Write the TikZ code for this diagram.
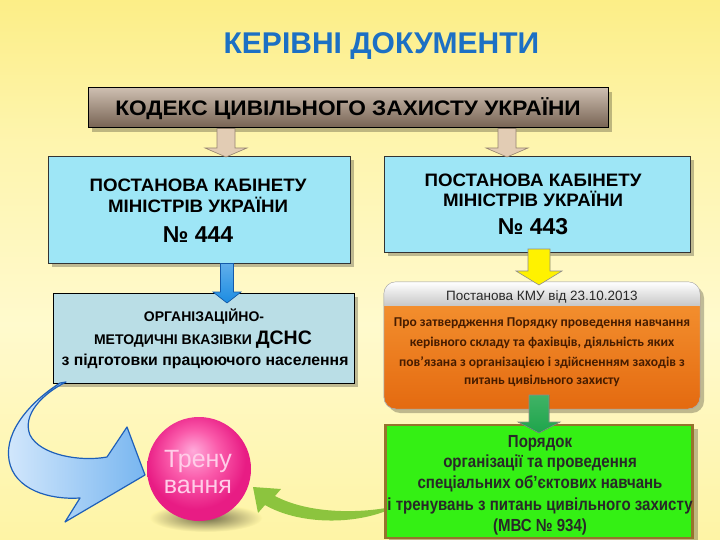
\documentclass[tikz,border=0pt]{standalone}
\usepackage{fontspec}
\setmainfont{Liberation Sans}
\newfontfamily\carlfont{Carlito}
\newfontfamily\narrowfont[FakeStretch=0.86]{Liberation Sans}
\newfontfamily\widefont[FakeStretch=1.08]{Liberation Sans}
\newfontfamily\semiwidefont[FakeStretch=1.04]{Liberation Sans}
\usetikzlibrary{calc}
\definecolor{bgtop}{RGB}{252,238,135}
\definecolor{bgmid}{RGB}{255,250,205}
\definecolor{bgbot}{RGB}{254,244,165}
\definecolor{titleblue}{RGB}{28,112,196}
\definecolor{kodtop}{RGB}{205,190,176}
\definecolor{kodmid}{RGB}{180,164,148}
\definecolor{kodbot}{RGB}{118,98,82}
\definecolor{beige}{RGB}{226,204,180}
\definecolor{beigeline}{RGB}{150,132,112}
\definecolor{cyanbox}{RGB}{158,230,246}
\definecolor{graybluebox}{RGB}{186,222,230}
\definecolor{arrowblue}{RGB}{28,140,226}
\definecolor{arrowbluedark}{RGB}{20,90,170}
\definecolor{orangetop}{RGB}{246,150,52}
\definecolor{orangebot}{RGB}{228,106,16}
\definecolor{orangetext}{RGB}{70,28,0}
\definecolor{greenbox}{RGB}{52,240,20}
\definecolor{greenborder}{RGB}{150,115,45}
\definecolor{greenarrow}{RGB}{30,165,75}
\definecolor{limearrow}{RGB}{140,196,62}
\definecolor{pinkhi}{RGB}{255,170,218}
\definecolor{pinkmid}{RGB}{250,90,170}
\definecolor{pinkedge}{RGB}{232,28,132}
\definecolor{pinktext}{RGB}{255,205,232}
\definecolor{ltblue1}{RGB}{212,232,252}
\definecolor{ltblue2}{RGB}{120,182,240}
\definecolor{curveblue}{RGB}{30,95,185}
\definecolor{darktext}{RGB}{40,40,40}
\pgfdeclareverticalshading{bgshade}{100bp}{color(0bp)=(bgbot); color(25bp)=(bgbot); color(45bp)=(bgmid); color(62bp)=(bgmid!55!bgtop); color(75bp)=(bgtop); color(100bp)=(bgtop)}
\pgfdeclareradialshading{pinkball}{\pgfpoint{-3bp}{9bp}}{color(0bp)=(pinkhi); color(12bp)=(pinkmid); color(24bp)=(pinkedge); color(50bp)=(pinkedge)}
\newcommand\vblockarrow[7]{%
  \filldraw[#1] ({#2-#5},#3) -- ({#2+#5},#3) -- ({#2+#5},{#4-#7}) -- ({#2+#6},{#4-#7}) -- (#2,#4) -- ({#2-#6},{#4-#7}) -- ({#2-#5},{#4-#7}) -- cycle;}
\begin{document}
\begin{tikzpicture}[x=1pt,y=-1pt,
  boxshadow/.style={fill=black,opacity=0.25},
  txt/.style={anchor=base,inner sep=0pt},
  capsA/.style={txt,font=\semiwidefont\bfseries\fontsize{18}{21}\selectfont},
  numA/.style={txt,font=\bfseries\fontsize{23}{26}\selectfont},
  bodyo/.style={txt,font=\carlfont\bfseries\fontsize{13.5}{16}\selectfont,text=orangetext},
  bodyg/.style={txt,font=\narrowfont\bfseries\fontsize{17.5}{20}\selectfont,text=darktext},
  ballt/.style={txt,font=\fontsize{25}{30}\selectfont,text=pinktext}]
\useasboundingbox (0,0) rectangle (720,540);
\shade[shading=bgshade] (0,0) rectangle (720,540);

% title
\node[txt,font=\bfseries\fontsize{30}{36}\selectfont,text=titleblue] (title) at (381.5,54) {КЕРІВНІ ДОКУМЕНТИ};

% kodex
\fill[boxshadow] (92,92) rectangle (612,132);
\node[draw=black,line width=1pt,top color=kodtop,middle color=kodmid,bottom color=kodbot,minimum width=520pt,minimum height=40pt,inner sep=0pt] (kodex) at (348,108) {};
\node[txt,font=\widefont\bfseries\fontsize{21}{24}\selectfont] (kodext) at (348,116) {КОДЕКС ЦИВІЛЬНОГО ЗАХИСТУ УКРАЇНИ};

% box 444
\fill[boxshadow] (52,160) rectangle (354,267);
\node[draw=black!80,line width=0.8pt,fill=cyanbox,minimum width=302pt,minimum height=107pt,inner sep=0pt] (p444) at (199,209.5) {};
\node[capsA] (p444a) at (198,192) {ПОСТАНОВА КАБІНЕТУ};
\node[capsA] (p444b) at (198,213) {МІНІСТРІВ УКРАЇНИ};
\node[numA] (p444c) at (198,242) {№ 444};

% box 443
\fill[boxshadow] (388,160) rectangle (694,256);
\node[draw=black!80,line width=0.8pt,fill=cyanbox,minimum width=306pt,minimum height=96pt,inner sep=0pt] (p443) at (537,204) {};
\node[capsA] (p443a) at (533,186.5) {ПОСТАНОВА КАБІНЕТУ};
\node[capsA] (p443b) at (533,207) {МІНІСТРІВ УКРАЇНИ};
\node[numA] (p443c) at (533,235) {№ 443};

% beige arrows from kodex
\vblockarrow{fill=beige,draw=beigeline,line width=0.6pt}{226}{128.5}{157}{9}{21}{9}
\vblockarrow{fill=beige,draw=beigeline,line width=0.6pt}{507}{128.5}{157}{9}{21}{9}

% box 2 (DSNS)
\fill[boxshadow] (57,297) rectangle (358,387);
\node[draw=black,line width=0.8pt,fill=graybluebox,minimum width=301pt,minimum height=90pt,inner sep=0pt] (dsns) at (203.5,338) {};
\node[txt,font=\bfseries\fontsize{14}{16}\selectfont] (dsnsa) at (204,321) {ОРГАНІЗАЦІЙНО-};
\node[txt,font=\bfseries\fontsize{14}{16}\selectfont] (dsnsb) at (203,344) {МЕТОДИЧНІ ВКАЗІВКИ {\fontsize{19.5}{21}\selectfont ДСНС}};
\node[txt,font=\bfseries\fontsize{15.8}{18}\selectfont] (dsnsc) at (205,365) {з підготовки працюючого населення};

% blue arrow 444 -> dsns
\vblockarrow{top color=arrowblue!70!white,bottom color=arrowblue,draw=arrowbluedark,line width=0.6pt}{227}{263.5}{303}{6.5}{14}{11}

% orange box
\fill[boxshadow,rounded corners=12pt] (388,286) rectangle (704,413);
\node[draw=black!30,rounded corners=12pt,top color=orangetop,bottom color=orangebot,minimum width=316pt,minimum height=127pt,inner sep=0pt] (kmu) at (542,345.5) {};
\begin{scope}
  \clip[rounded corners=12pt] (kmu.north west) rectangle (kmu.south east);
  \shade[top color=white,bottom color=black!22] (kmu.north west) rectangle ($(kmu.north east)+(0,24)$);
\end{scope}
\draw[black!35,rounded corners=12pt] (kmu.north west) rectangle (kmu.south east);
\node[txt,font=\fontsize{13.5}{16}\selectfont,text=darktext] (kmuhead) at (542,300) {Постанова КМУ від 23.10.2013};
\node[bodyo] (kmu1) at (542,326) {Про затвердження Порядку проведення навчання};
\node[bodyo] (kmu2) at (542,346) {керівного складу та фахівців, діяльність яких};
\node[bodyo] (kmu3) at (542,366) {пов’язана з організацією і здійсненням заходів з};
\node[bodyo] (kmu4) at (542,384) {питань цивільного захисту};

% yellow arrow 443 -> kmu
\vblockarrow{fill=yellow,draw=black!45,line width=0.6pt}{539}{249}{285}{11}{23}{14}

% lime curved arrow (mvs -> ball)
\fill[limearrow] (253,487) -- (281,489) -- (275,496) .. controls (305,512) and (350,514) .. (386,508) -- (386,511) .. controls (350,525) and (298,524) .. (265,505) -- (258,513) -- cycle;

% green box
\fill[boxshadow] (389,429) rectangle (698,542);
\node[draw=greenborder,line width=2.5pt,fill=greenbox,minimum width=307pt,minimum height=113pt,inner sep=0pt] (mvs) at (539,481.5) {};
\node[bodyg] (mvs1) at (540,447) {Порядок};
\node[bodyg] (mvs2) at (540,467) {організації та проведення};
\node[bodyg] (mvs3) at (540,488) {спеціальних об’єктових навчань};
\node[bodyg] (mvs4) at (540,510) {і тренувань з питань цивільного захисту};
\node[bodyg] (mvs5) at (540,531) {(МВС № 934)};

% green arrow kmu -> mvs
\vblockarrow{top color=greenarrow!85!white,bottom color=greenarrow,draw=black!45,line width=0.6pt}{539}{395}{433}{10}{21}{11}

% ball shadow and ball
\shade[inner color=black!55!bgbot,outer color=bgbot] (206,518) ellipse (56 and 14);
\node[circle,minimum size=104pt,inner sep=0pt,shading=pinkball] (ball) at (199,469) {};
\node[ballt] (ball1) at (198,467) {Трену};
\node[ballt] (ball2) at (198,493) {вання};

% blue curved arrow (dsns -> ball)
\draw[curveblue,line width=1.2pt,left color=ltblue1,right color=ltblue2,line join=round]
  (60,383) .. controls (33,400) and (4,430) .. (9,460) .. controls (14,490) and (50,500) .. (80,498)
  -- (65,522) -- (145,475) -- (127,427) -- (107,457)
  .. controls (80,462) and (40,455) .. (30,435) .. controls (22,415) and (42,394) .. (66,382) -- cycle;
\end{tikzpicture}
\end{document}
